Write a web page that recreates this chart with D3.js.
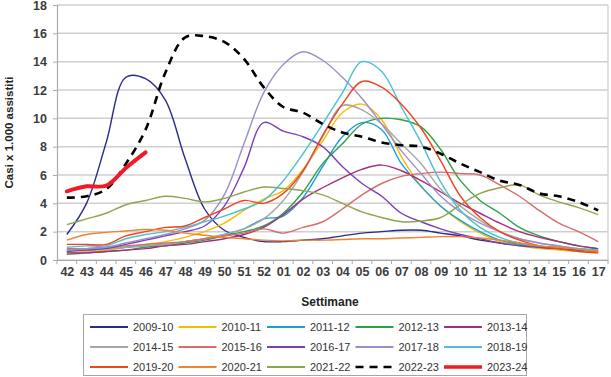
<!DOCTYPE html>
<html>
<head>
<meta charset="utf-8">
<script src="https://cdn.jsdelivr.net/npm/d3@7"></script>
<style>
  body { margin: 0; background: #fff; }
  svg { font-family: "Liberation Sans", Arial, sans-serif; }
</style>
</head>
<body>
<div id="chart"></div>
<script>
// Settimane (asse x)
const weeks = ["42","43","44","45","46","47","48","49","50","51","52",
    "01","02","03","04","05","06","07","08","09","10","11","12","13","14","15","16","17"]

const seasons = ["2009-10","2010-11","2011-12","2012-13","2013-14",
    "2014-15","2015-16","2016-17","2017-18","2018-19",
    "2019-20","2020-21","2021-22","2022-23","2023-24"]

const yTicks = [0, 2, 4, 6, 8, 10, 12, 14, 16, 18]

// Casi x 1.000 assistiti, una lista per stagione
const s2009_10 = [1.8, 4.0, 8.3, 12.9, 12.8, 11.3, 7.2, 3.6, 2.1, 1.6, 1.3, 1.3, 1.4, 1.5, 1.7, 1.9, 2.0, 2.1, 2.1, 1.9, 1.7, 1.4, 1.2, 1.05, 0.9, 0.8, 0.7, 0.6]
const s2010_11 = [0.5, 0.6, 0.7, 0.9, 1.1, 1.3, 1.6, 2.0, 2.6, 3.5, 4.3, 4.9, 6.4, 8.4, 10.4, 11.0, 9.9, 7.3, 5.2, 3.8, 2.7, 1.9, 1.3, 1.0, 0.8, 0.7, 0.6, 0.5]
const s2011_12 = [0.7, 0.8, 0.8, 0.9, 1.0, 1.1, 1.3, 1.5, 1.8, 2.2, 2.9, 3.1, 4.4, 6.6, 8.7, 9.7, 9.2, 6.8, 5.2, 3.8, 2.8, 2.0, 1.4, 1.1, 0.9, 0.8, 0.7, 0.6]
const s2012_13 = [0.4, 0.5, 0.6, 0.7, 0.9, 1.0, 1.2, 1.4, 1.7, 2.0, 2.4, 3.3, 4.8, 6.8, 8.2, 9.6, 10.0, 9.9, 9.4, 7.8, 5.6, 4.2, 3.3, 2.3, 1.7, 1.3, 1.0, 0.8]
const s2013_14 = [0.5, 0.5, 0.6, 0.7, 0.8, 1.0, 1.1, 1.3, 1.5, 1.8, 2.3, 3.2, 4.3, 5.1, 5.8, 6.4, 6.7, 6.3, 5.6, 4.8, 4.0, 3.3, 2.6, 2.0, 1.6, 1.3, 1.0, 0.8]
const s2014_15 = [0.7, 0.7, 0.8, 0.9, 1.0, 1.1, 1.3, 1.5, 1.8, 2.2, 2.9, 4.2, 6.2, 8.7, 10.9, 10.6, 9.6, 8.2, 6.8, 5.0, 3.8, 2.8, 2.0, 1.5, 1.2, 1.0, 0.8, 0.7]
const s2015_16 = [0.8, 0.8, 0.9, 1.0, 1.1, 1.2, 1.3, 1.5, 1.7, 1.9, 2.2, 1.9, 2.3, 2.7, 3.6, 4.6, 5.4, 5.9, 6.1, 6.2, 6.1, 6.0, 5.3, 4.5, 3.5, 2.6, 2.0, 1.3]
const s2016_17 = [0.6, 0.7, 0.8, 1.1, 1.4, 1.7, 2.0, 2.4, 3.8, 6.5, 9.7, 9.1, 8.7, 8.0, 6.6, 5.4, 4.5, 3.3, 2.7, 2.2, 1.8, 1.5, 1.2, 1.0, 0.9, 0.8, 0.7, 0.6]
const s2017_18 = [0.7, 0.8, 0.9, 1.2, 1.5, 1.8, 2.2, 2.8, 4.6, 8.2, 11.8, 13.8, 14.7, 14.1, 12.9, 11.4, 9.6, 7.7, 6.1, 4.5, 3.4, 2.6, 2.0, 1.5, 1.2, 1.0, 0.8, 0.7]
const s2018_19 = [0.9, 1.0, 1.0, 1.5, 1.8, 2.0, 2.3, 2.7, 3.1, 3.6, 4.2, 5.6, 7.5, 9.6, 11.8, 14.0, 13.3, 10.8, 8.3, 5.5, 3.5, 2.3, 1.6, 1.2, 1.0, 0.9, 0.8, 0.7]
const s2019_20 = [1.1, 1.1, 1.1, 1.7, 2.0, 2.3, 2.4, 3.0, 3.6, 4.2, 4.0, 4.7, 6.3, 8.8, 11.0, 12.6, 12.2, 11.0, 9.3, 7.0, 4.5, 3.0, 2.0, 1.4, 1.0, 0.8, 0.6, 0.5]
const s2020_21 = [1.4, 1.8, 1.95, 2.05, 2.15, 2.1, 1.9, 1.75, 1.6, 1.5, 1.4, 1.35, 1.4, 1.4, 1.45, 1.5, 1.5, 1.55, 1.6, 1.65, 1.65, 1.55, 1.4, 1.2, 1.0, 0.9, 0.75, 0.6]
const s2021_22 = [2.5, 2.9, 3.3, 3.9, 4.2, 4.5, 4.35, 4.1, 4.35, 4.8, 5.15, 5.05, 4.9, 4.6, 4.0, 3.4, 3.0, 2.7, 2.75, 3.0, 3.9, 4.7, 5.1, 5.3, 4.6, 4.1, 3.7, 3.2]
const s2022_23 = [4.4, 4.5, 5.0, 6.8, 9.2, 13.2, 15.7, 15.8, 15.4, 14.2, 12.2, 10.8, 10.4, 9.6, 9.0, 8.7, 8.3, 8.1, 8.0, 7.5, 6.8, 6.2, 5.6, 5.3, 4.7, 4.5, 4.1, 3.5]
const s2023_24 = [4.85, 5.2, 5.25, 6.5, 7.6]

const seriesValues = [s2009_10, s2010_11, s2011_12, s2012_13, s2013_14,
    s2014_15, s2015_16, s2016_17, s2017_18, s2018_19,
    s2019_20, s2020_21, s2021_22, s2022_23, s2023_24]

const colors = ["#2b2b8c", "#f5bd00", "#1a9fdc", "#2fa043", "#a2307f",
    "#a6a6a6", "#da6b6b", "#7c3fb6", "#9d8dca", "#4cc0d0",
    "#ef441e", "#f0832d", "#8ca64e", "#000000", "#ee1c25"]

// Set dimensions
let dimensions = {
    width: 611,
    height: 377,
    margin: {
        top: 5,
        right: 3,
        bottom: 117,
        left: 57,
    },
}

dimensions.boundedWidth = dimensions.width
    - dimensions.margin.left
    - dimensions.margin.right

dimensions.boundedHeight = dimensions.height
    - dimensions.margin.top
    - dimensions.margin.bottom

// Scales
const xScale = d3.scalePoint()
    .domain(weeks)
    .range([0, dimensions.boundedWidth])
    .padding(0.5)

const yScale = d3.scaleLinear()
    .domain([0, 18])
    .range([dimensions.boundedHeight, 0])

const lineGenerator = d3.line()
    .x((d, i) => xScale(weeks[i]))
    .y(d => yScale(d))
    .curve(d3.curveCatmullRom.alpha(0.5))

function drawChart() {
    const wrapper = d3.select("#chart")
        .append("svg")
        .attr("width", dimensions.width)
        .attr("height", dimensions.height)

    const bounds = wrapper.append("g")
        .attr("transform", `translate(${dimensions.margin.left}, ${dimensions.margin.top})`)

    // gridlines
    bounds.append("g")
        .selectAll("line")
        .data(yTicks)
        .join("line")
            .attr("x1", 0)
            .attr("x2", dimensions.boundedWidth)
            .attr("y1", d => yScale(d))
            .attr("y2", d => yScale(d))
            .attr("stroke", "#cfcfcf")
            .attr("stroke-width", 1.5)

    // right frame
    bounds.append("line")
        .attr("x1", dimensions.boundedWidth)
        .attr("x2", dimensions.boundedWidth)
        .attr("y1", 0)
        .attr("y2", dimensions.boundedHeight)
        .attr("stroke", "#d4d4d4")
        .attr("stroke-width", 1.5)

    // y axis
    const yAxisGenerator = d3.axisLeft(yScale)
        .tickValues(yTicks)
        .tickSize(4)
        .tickPadding(6)

    const yAxis = bounds.append("g")
        .call(yAxisGenerator)
    yAxis.select(".domain").attr("stroke", "#aaaaaa").attr("stroke-width", 1.2)
    yAxis.selectAll(".tick line").attr("stroke", "#aaaaaa")
    yAxis.selectAll("text")
        .attr("fill", "#3c3c3c")
        .style("font-size", "12.5px")
        .style("font-weight", "bold")

    // x axis
    const xAxisGenerator = d3.axisBottom(xScale)
        .tickSize(0)
        .tickPadding(7)

    const xAxis = bounds.append("g")
        .attr("transform", `translate(0, ${dimensions.boundedHeight})`)
        .call(xAxisGenerator)
    xAxis.select(".domain").attr("stroke", "#aaaaaa").attr("stroke-width", 1.2)
    xAxis.selectAll("text")
        .attr("fill", "#3c3c3c")
        .style("font-size", "12.5px")
        .style("font-weight", "bold")

    // category separators below the axis
    const step = xScale.step()
    xAxis.append("g")
        .selectAll("line")
        .data(d3.range(weeks.length + 1))
        .join("line")
            .attr("x1", d => d * step)
            .attr("x2", d => d * step)
            .attr("y1", 0)
            .attr("y2", 4)
            .attr("stroke", "#aaaaaa")

    // lines
    const lines = bounds.append("g")
    seriesValues.forEach((vals, i) => {
        const path = lines.append("path")
            .attr("d", lineGenerator(vals))
            .attr("fill", "none")
            .attr("stroke", colors[i])
            .attr("stroke-width", 1.4)
            .attr("stroke-linejoin", "round")
        if (seasons[i] === "2022-23") {
            path.attr("stroke-width", 2.6).attr("stroke-dasharray", "8,6")
        }
        if (seasons[i] === "2023-24") {
            path.attr("stroke-width", 4).attr("stroke-linecap", "round")
        }
    })

    // axis titles
    wrapper.append("text")
        .attr("transform", `translate(13, ${dimensions.margin.top + dimensions.boundedHeight / 2}) rotate(-90)`)
        .attr("text-anchor", "middle")
        .attr("fill", "#222")
        .style("font-size", "11.5px")
        .style("font-weight", "bold")
        .text("Casi x 1.000 assistiti")

    wrapper.append("text")
        .attr("x", 330)
        .attr("y", 306)
        .attr("text-anchor", "middle")
        .attr("fill", "#222")
        .style("font-size", "12px")
        .style("font-weight", "bold")
        .text("Settimane")

    // legend
    const legend = wrapper.append("g")
    legend.append("rect")
        .attr("x", 83.5)
        .attr("y", 314.5)
        .attr("width", 443)
        .attr("height", 61)
        .attr("fill", "#fff")
        .attr("stroke", "#a6a6a6")

    const items = legend.selectAll("g.item")
        .data(seasons)
        .join("g")
            .attr("class", "item")
            .attr("transform", (d, i) => `translate(${90 + (i % 5) * 88.5}, ${327 + Math.floor(i / 5) * 20})`)

    items.append("line")
        .attr("x1", 0)
        .attr("x2", 38)
        .attr("stroke", (d, i) => colors[i])
        .attr("stroke-width", d => d === "2023-24" ? 3.5 : d === "2022-23" ? 2.6 : 1.8)
        .attr("stroke-dasharray", d => d === "2022-23" ? "8,6" : null)

    items.append("text")
        .attr("x", 43)
        .attr("dy", "0.35em")
        .attr("fill", "#333")
        .style("font-size", "11px")
        .text(d => d)
}

drawChart()
</script>
</body>
</html>
